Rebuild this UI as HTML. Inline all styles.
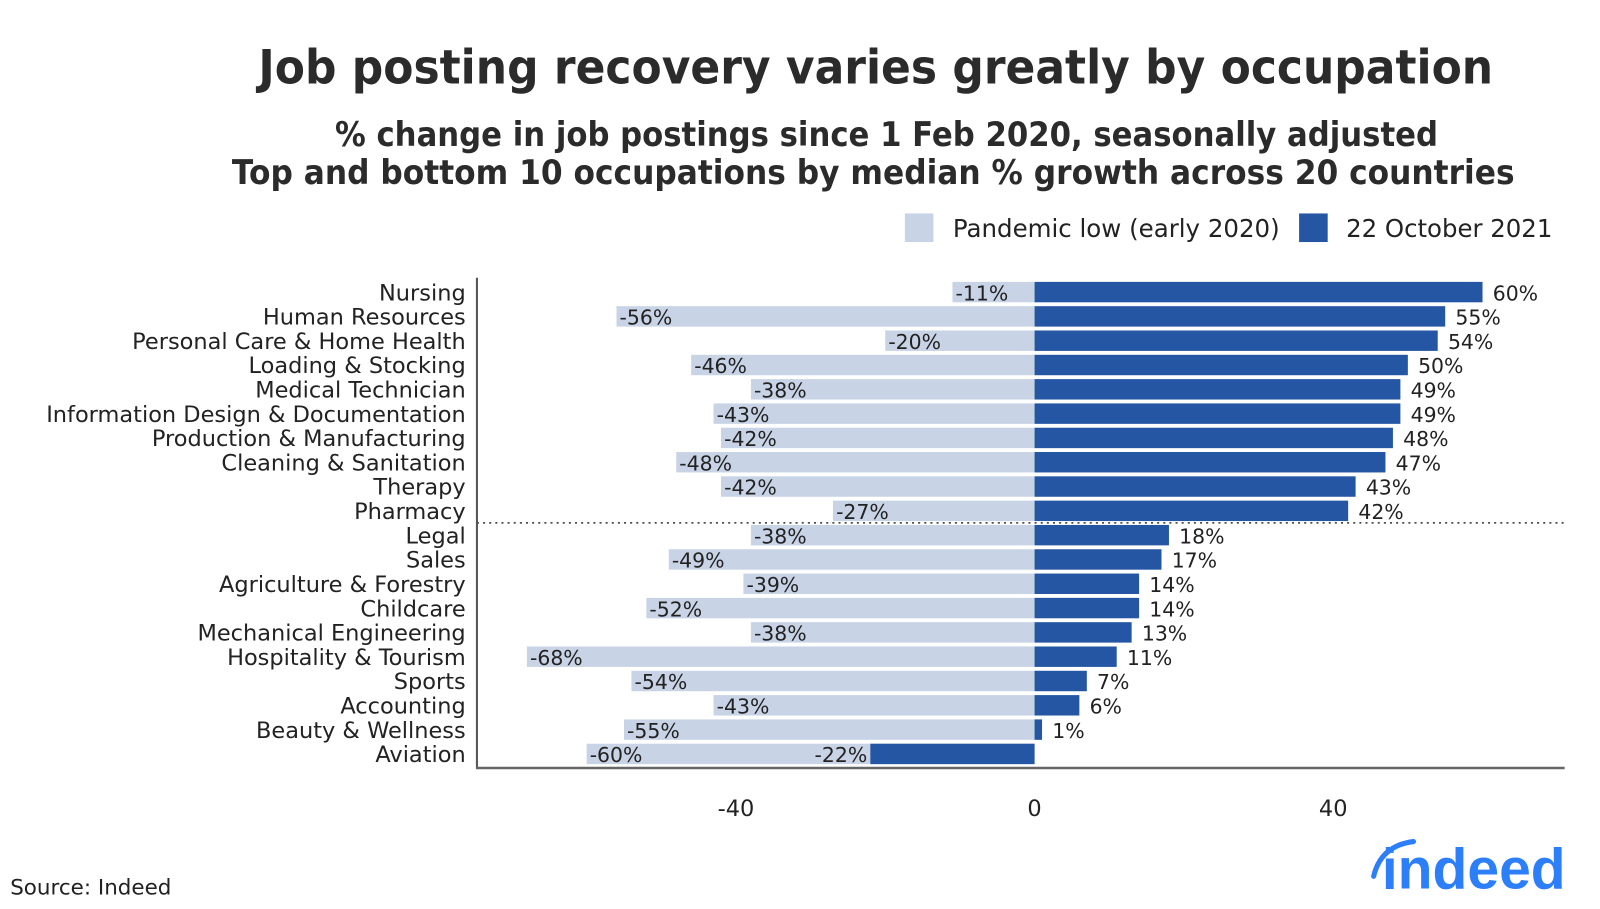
<!DOCTYPE html>
<html><head><meta charset="utf-8"><style>
body{margin:0;background:#fff;}
svg{display:block;font-family:"DejaVu Sans","Liberation Sans",sans-serif;}
</style></head><body>
<svg id="chart" width="1600" height="909" viewBox="0 0 1600 909" xmlns="http://www.w3.org/2000/svg">
<g transform="scale(1.0213)">
<text x="253" y="82" font-size="46" font-weight="bold" fill="#2b2b2b" textLength="1209" lengthAdjust="spacingAndGlyphs">Job posting recovery varies greatly by occupation</text>
<text x="328" y="143" font-size="33" font-weight="bold" fill="#2b2b2b" textLength="1080" lengthAdjust="spacingAndGlyphs">% change in job postings since 1 Feb 2020, seasonally adjusted</text>
<text x="227" y="180" font-size="33" font-weight="bold" fill="#2b2b2b" textLength="1256" lengthAdjust="spacingAndGlyphs">Top and bottom 10 occupations by median % growth across 20 countries</text>
<g>
<rect x="886" y="209" width="28" height="28" fill="#c8d3e6"/>
<text x="933" y="232" font-size="24" fill="#222" textLength="320" lengthAdjust="spacingAndGlyphs">Pandemic low (early 2020)</text>
<rect x="1272" y="209" width="28" height="28" fill="#2456a4"/>
<text x="1318" y="232" font-size="24" fill="#222" textLength="202" lengthAdjust="spacingAndGlyphs">22 October 2021</text>
</g>
<g id="plot"></g>
<text x="10" y="876" font-size="21" fill="#222">Source: Indeed</text>
<g>
<path d="M1345 858 Q1352 828 1384 824" stroke="#2d7ff9" stroke-width="5" fill="none" stroke-linecap="round"/>
<text x="1353" y="870" font-size="56" font-weight="bold" fill="#2d7ff9" font-family="Liberation Sans, sans-serif" textLength="180" lengthAdjust="spacingAndGlyphs">indeed</text>
</g>
</g>
</svg>
<script>
const categories=["Nursing","Human Resources","Personal Care & Home Health","Loading & Stocking","Medical Technician","Information Design & Documentation","Production & Manufacturing","Cleaning & Sanitation","Therapy","Pharmacy","Legal","Sales","Agriculture & Forestry","Childcare","Mechanical Engineering","Hospitality & Tourism","Sports","Accounting","Beauty & Wellness","Aviation"];
const lowValues=[-11,-56,-20,-46,-38,-43,-42,-48,-42,-27,-38,-49,-39,-52,-38,-68,-54,-43,-55,-60];
const octValues=[60,55,54,50,49,49,48,47,43,42,18,17,14,14,13,11,7,6,1,-22];
const xTicks=[-40,0,40];
const NS="http://www.w3.org/2000/svg";
const g=document.getElementById('plot');
const X=v=>1013+v*7.31;
const Y=i=>286+i*23.8;
function mk(t,a){const e=document.createElementNS(NS,t);for(const k in a)e.setAttribute(k,a[k]);g.appendChild(e);return e;}
categories.forEach((c,i)=>{
  const y=Y(i);
  const t=mk('text',{x:456,y:y+8,'font-size':22,fill:'#222','text-anchor':'end'});t.textContent=c;
  
  
  const lv=lowValues[i];
  const lb=mk('rect',{x:X(lv),y:y-10,width:X(0)-X(lv),height:20,fill:'#c8d3e6'});
  
  
  const lt=mk('text',{x:X(lv)+3,y:y+8,'font-size':20,fill:'#222'});lt.textContent=lv+'%';
  
  
  const ov=octValues[i];
  const x0=Math.min(X(0),X(ov)),w=Math.abs(X(ov)-X(0));
  const ob=mk('rect',{x:x0,y:y-10,width:w,height:20,fill:'#2456a4'});
  
  
  const ot=ov>=0?mk('text',{x:X(ov)+10,y:y+8,'font-size':20,fill:'#222'}):mk('text',{x:X(ov)-3,y:y+8,'font-size':20,fill:'#222','text-anchor':'end'});
  ot.textContent=ov+'%';
  
  
});
const dl=mk('line',{x1:467,x2:1532,y1:512,y2:512,stroke:'#333','stroke-width':1.5,'stroke-dasharray':'2,4'});


const ya=mk('line',{x1:467,x2:467,y1:272,y2:752,stroke:'#555','stroke-width':2});


const xa=mk('line',{x1:466,x2:1532,y1:752,y2:752,stroke:'#666','stroke-width':2.5});


xTicks.forEach(v=>{
  const t=mk('text',{x:X(v),y:799,'font-size':22,fill:'#222','text-anchor':'middle'});t.textContent=v;
  
  
});
</script>
</body></html>
